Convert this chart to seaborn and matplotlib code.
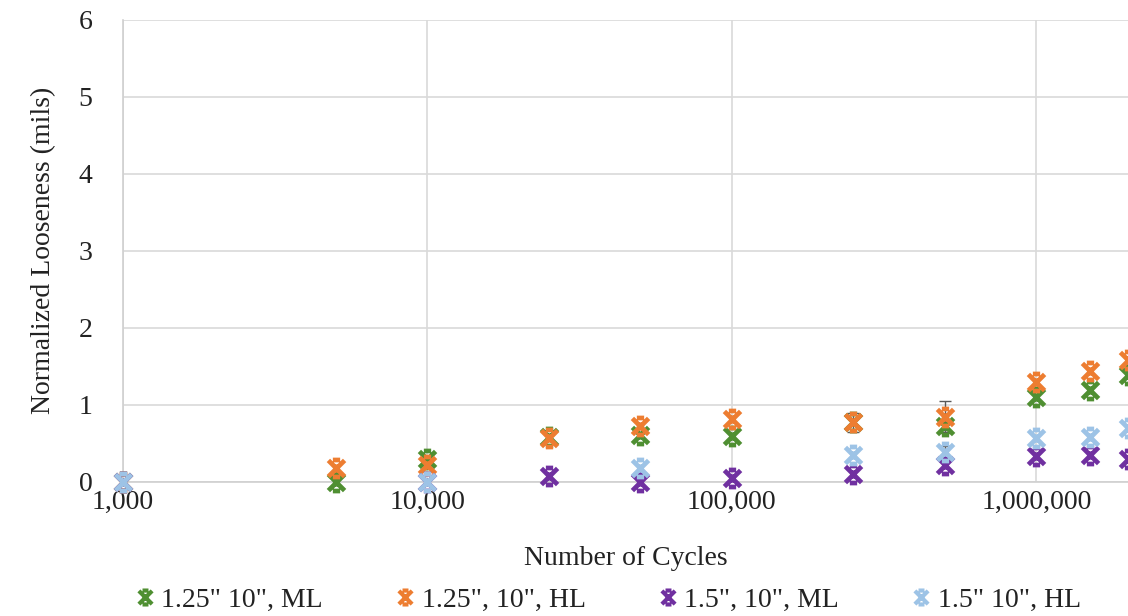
import numpy as np
import pandas as pd
import matplotlib
matplotlib.use("Agg")
import matplotlib.pyplot as plt
from matplotlib.path import Path
from matplotlib.lines import Line2D
import seaborn as sns

# Data
cycles = [1000, 5000, 10000, 25000, 50000, 100000, 250000, 500000, 1000000, 1500000, 2000000]
ml_125 = [0.0, 0.0, 0.29, 0.58, 0.61, 0.59, 0.77, 0.72, 1.10, 1.19, 1.38]
hl_125 = [0.0, 0.18, 0.22, 0.57, 0.72, 0.82, 0.77, 0.84, 1.30, 1.44, 1.58]
ml_15 = [0.0, np.nan, 0.0, 0.07, 0.0, 0.05, 0.10, 0.22, 0.34, 0.35, 0.29]
hl_15 = [0.0, np.nan, 0.0, np.nan, 0.18, np.nan, 0.35, 0.39, 0.57, 0.58, 0.70]

err_ml_125 = [0, 0, 0, 0, 0, 0, 0, 0.08, 0, 0, 0]
err_hl_125 = [0, 0, 0, 0, 0, 0, 0.12, 0.21, 0, 0, 0]
err_ml_15 = [0, 0, 0, 0, 0, 0, 0, 0, 0, 0, 0]
err_hl_15 = [0, 0, 0, 0, 0, 0, 0, 0.07, 0, 0, 0]

labels = ['1.25" 10", ML', '1.25", 10", HL', '1.5", 10", ML', '1.5" 10", HL']
colors = ["#4f8f32", "#ed7d31", "#7030a0", "#9dc3e6"]

series = [ml_125, hl_125, ml_15, hl_15]
errors = [err_ml_125, err_hl_125, err_ml_15, err_hl_15]

rows = []
for lab, vals in zip(labels, series):
    for c, v in zip(cycles, vals):
        rows.append({"Cycles": c, "Looseness": v, "Series": lab})
df = pd.DataFrame(rows).dropna()

sns.set_style("white")
plt.rcParams["font.family"] = ["Liberation Serif", "DejaVu Serif"]

# Excel-like "x with caps" marker
verts = [(-1, -1), (1, 1), (-1, 1), (1, -1), (-0.45, 1.05), (0.45, 1.05),
         (-0.45, -1.05), (0.45, -1.05), (0, -0.5), (0, 0.5)]
codes = [Path.MOVETO, Path.LINETO] * 5
xmark = Path(verts, codes)

fig = plt.figure(figsize=(11.28, 6.16), dpi=100)
ax = fig.add_axes([0.109, 0.218, 0.891, 0.75])

# error bars first (only where present)
for vals, errs in zip(series, errors):
    x = [c for c, v, e in zip(cycles, vals, errs) if e > 0]
    y = [v for v, e in zip(vals, errs) if e > 0]
    e = [e for e in errs if e > 0]
    if x:
        ax.errorbar(x, y, yerr=e, fmt="none", ecolor="#595959", elinewidth=1,
                    capsize=4, capthick=1, zorder=2)

for lab, col in zip(labels, colors):
    sub = df[df["Series"] == lab]
    sns.scatterplot(data=sub, x="Cycles", y="Looseness", ax=ax, marker=xmark,
                    s=150, color=col, edgecolor=col, linewidth=3.4,
                    clip_on=False, zorder=3, legend=False)

ax.set_xscale("log")
ax.set_xlim(1000, 2000000)
ax.set_ylim(0, 6)
ax.set_yticks(range(0, 7))
ax.set_xticks([1000, 10000, 100000, 1000000])
ax.set_xticklabels(["1,000", "10,000", "100,000", "1,000,000"])
ax.xaxis.set_minor_locator(matplotlib.ticker.NullLocator())

ax.grid(True, color="#d9d9d9", linewidth=1.2)
ax.set_axisbelow(True)
for side in ["top", "right"]:
    ax.spines[side].set_visible(False)
for side in ["left", "bottom"]:
    ax.spines[side].set_color("#d0d0d0")
    ax.spines[side].set_linewidth(1.2)
ax.tick_params(axis="both", length=0, labelsize=20, colors="#222222", pad=6)
ax.tick_params(axis="y", pad=22)

ax.set_xlabel("Number of Cycles", fontsize=20, color="#222222", labelpad=22)
ax.set_ylabel("Normalized Looseness (mils)", fontsize=20, color="#222222", labelpad=16)

handles = [Line2D([], [], linestyle="none", marker=xmark, markersize=10,
                  markeredgewidth=3.0, color=c) for c in colors]
fig.legend(handles, labels, loc="lower center", bbox_to_anchor=(0.537, -0.035),
           ncol=4, frameon=False, fontsize=20, handletextpad=0.1,
           columnspacing=2.45, handlelength=1.0, labelcolor="#222222")

fig.savefig("out.png", dpi=100)
